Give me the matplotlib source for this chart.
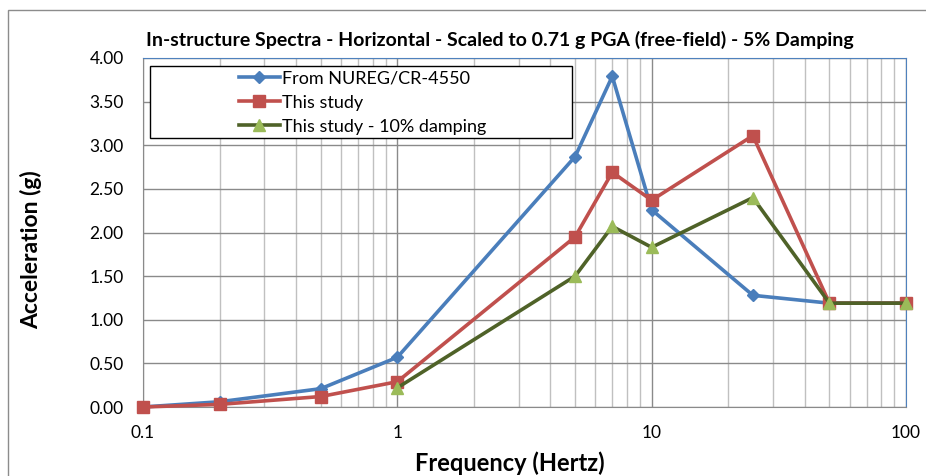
import matplotlib
matplotlib.use("Agg")
import matplotlib.pyplot as plt
from matplotlib.ticker import FixedLocator, NullFormatter, LogLocator
from matplotlib.patches import Rectangle

freq = [0.1, 0.2, 0.5, 1, 5, 7, 10, 25, 50, 100]
nureg = [0.0, 0.06, 0.21, 0.57, 2.87, 3.79, 2.26, 1.28, 1.19, 1.19]
study = [0.0, 0.03, 0.12, 0.29, 1.95, 2.69, 2.37, 3.11, 1.19, 1.19]
freq10 = [1, 5, 7, 10, 25, 50, 100]
study10 = [0.22, 1.50, 2.07, 1.83, 2.40, 1.19, 1.19]

yticks = [0.0, 0.5, 1.0, 1.5, 2.0, 2.5, 3.0, 3.5, 4.0]
xticks = [0.1, 1, 10, 100]
xticklabels = ["0.1", "1", "10", "100"]

plt.rcParams['font.family'] = ['Lato', 'DejaVu Sans']

W, H = 926, 476
fig = plt.figure(figsize=(W / 100, H / 100), dpi=100)
fig.patches.append(Rectangle((8/W, -0.05), 1.1, 1.05 - 10/H, transform=fig.transFigure,
                             fill=False, edgecolor='#8c8c8c', linewidth=1.0))
ax = fig.add_axes([143/W, 1 - 407/H, 763/W, 349/H])

ax.set_xscale('log')
ax.set_xlim(0.1, 100)
ax.set_ylim(0, 4)
ax.xaxis.set_major_locator(FixedLocator(xticks))
ax.set_xticklabels(xticklabels)
ax.xaxis.set_minor_locator(LogLocator(base=10, subs=range(2, 10)))
ax.xaxis.set_minor_formatter(NullFormatter())
ax.set_yticks(yticks)
ax.set_yticklabels([f"{v:.2f}" for v in yticks])

ax.grid(which='major', axis='x', color='#8a8a8a', linewidth=1.0)
ax.grid(which='minor', axis='x', color='#c0c0c0', linewidth=1.0)
ax.grid(which='major', axis='y', color='#8a8a8a', linewidth=1.0)
ax.set_axisbelow(True)

ax.tick_params(axis='both', which='both', length=0, labelsize=12.5, colors='black')
ax.tick_params(axis='y', pad=14)
ax.tick_params(axis='x', pad=13)
for side in ['left', 'bottom']:
    ax.spines[side].set_color('#8a8a8a')
for side in ['top', 'right']:
    ax.spines[side].set_color('#4f81bd')

ax.plot(freq, nureg, color='#4a7ebb', linewidth=2.6, marker='D', markersize=6.5,
        markerfacecolor='#4a7ebb', markeredgecolor='#4a7ebb', label='From NUREG/CR-4550',
        clip_on=False, zorder=3)
ax.plot(freq, study, color='#c0504d', linewidth=2.6, marker='s', markersize=9,
        markerfacecolor='#c0504d', markeredgecolor='#c0504d', label='This study',
        clip_on=False, zorder=4)
ax.plot(freq10, study10, color='#4f6228', linewidth=2.6, marker='^', markersize=9,
        markerfacecolor='#9bbb59', markeredgecolor='#9bbb59', label='This study - 10% damping',
        clip_on=False, zorder=5)

# legend box (drawn separately to match the wide Excel legend frame)
box = Rectangle((150/W, 1 - 138/H), (572 - 150)/W, (138 - 66)/H, transform=fig.transFigure,
                facecolor='white', edgecolor='black', linewidth=1.0, zorder=10)
fig.patches.append(box)
leg = ax.legend(loc='upper left', bbox_to_anchor=(234/W, 1 - 66/H),
                bbox_transform=fig.transFigure, frameon=False, fontsize=13,
                handlelength=2.3, borderpad=0.25, labelspacing=0.45,
                handletextpad=0.1, borderaxespad=0)
leg.set_zorder(11)
leg.remove()
fig.add_artist(leg)

ax.set_xlabel('Frequency (Hertz)', fontsize=17, fontweight='bold')
ax.xaxis.set_label_coords((510 - 143) / 763, -(463 - 407) / 349)
ax.xaxis.label.set_va('center')
ax.set_ylabel('Acceleration (g)', fontsize=16.5, fontweight='bold')
ax.yaxis.set_label_coords(-(143 - 31) / 763, (407 - 250) / 349)
ax.yaxis.label.set_va('center')
fig.text(500/W, 1 - 40/H, 'In-structure Spectra - Horizontal - Scaled to 0.71 g PGA (free-field) - 5% Damping',
         ha='center', va='center', fontsize=14, fontweight='bold')

fig.savefig('out.png', dpi=100)
